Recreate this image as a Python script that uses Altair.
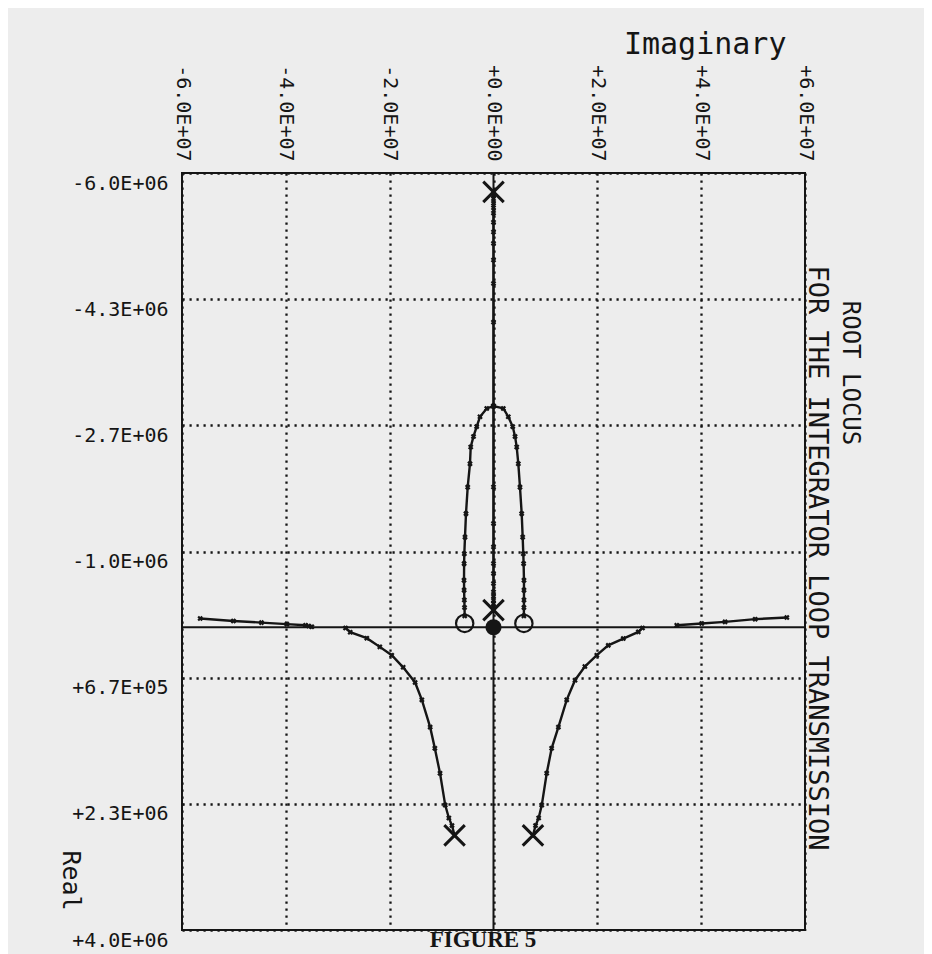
import altair as alt
import pandas as pd

# ---------------- axis ticks / labels ----------------
imag_ticks = [-6e7, -4e7, -2e7, 0.0, 2e7, 4e7, 6e7]
imag_labels = ["-6.0E+07", "-4.0E+07", "-2.0E+07", "+0.0E+00", "+2.0E+07", "+4.0E+07", "+6.0E+07"]
real_ticks = [-6.0e6, -4.333333e6, -2.666667e6, -1.0e6, 6.66667e5, 2.333333e6, 4.0e6]
real_labels = ["-6.0E+06", "-4.3E+06", "-2.7E+06", "-1.0E+06", "+6.7E+05", "+2.3E+06", "+4.0E+06"]

# ---------------- locus branches (imag, real) ----------------
upper_vert_real = [-5.75e6, -5.71e6, -5.66e6, -5.60e6, -5.54e6, -5.47e6, -5.35e6, -5.22e6,
                   -5.07e6, -4.85e6, -4.54e6, -4.03e6, -2.92e6]
upper_vert_imag = [0.0] * 13

lower_vert_real = [-2.25e5, -2.68e5, -3.10e5, -3.57e5, -4.10e5, -4.66e5, -5.77e5, -7.09e5,
                   -8.41e5, -1.061e6, -1.37e6, -1.853e6, -2.92e6]
lower_vert_imag = [0.0] * 13

left_arch_imag = [0.0, -1.3e6, -2.6e6, -3.24e6, -3.85e6, -4.39e6, -4.53e6, -4.97e6, -5.30e6,
                  -5.49e6, -5.62e6, -5.66e6, -5.68e6, -5.66e6, -5.62e6, -5.58e6, -5.55e6]
left_arch_real = [-2.92e6, -2.89e6, -2.78e6, -2.65e6, -2.52e6, -2.38e6, -2.16e6, -1.85e6, -1.50e6,
                  -1.19e6, -9.7e5, -8.4e5, -6.2e5, -4.9e5, -3.6e5, -2.6e5, -1.5e5]

right_arch_imag = [0.0, 1.89e6, 2.85e6, 3.70e6, 4.15e6, 4.47e6, 4.78e6, 5.10e6, 5.43e6,
                   5.62e6, 5.74e6, 5.80e6, 5.87e6, 5.87e6, 5.87e6, 5.86e6, 5.85e6]
right_arch_real = [-2.92e6, -2.89e6, -2.78e6, -2.65e6, -2.52e6, -2.38e6, -2.16e6, -1.85e6, -1.50e6,
                   -1.19e6, -9.7e5, -8.4e5, -6.2e5, -4.9e5, -3.6e5, -2.6e5, -1.5e5]

left_low_imag = [-7.5e6, -8.0e6, -8.6e6, -9.3e6, -1.03e7, -1.13e7, -1.22e7, -1.38e7, -1.51e7,
                 -1.74e7, -1.96e7, -2.19e7, -2.44e7, -2.76e7, -2.85e7]
left_low_real = [2.75e6, 2.62e6, 2.52e6, 2.35e6, 1.93e6, 1.60e6, 1.32e6, 9.6e5, 7.3e5,
                 5.3e5, 3.7e5, 2.6e5, 1.45e5, 6.6e4, 1.0e4]

right_low_imag = [7.6e6, 8.1e6, 8.7e6, 9.3e6, 1.025e7, 1.12e7, 1.25e7, 1.41e7, 1.57e7,
                  1.76e7, 1.99e7, 2.21e7, 2.50e7, 2.79e7, 2.87e7]
right_low_real = [2.75e6, 2.62e6, 2.52e6, 2.35e6, 1.93e6, 1.60e6, 1.32e6, 9.6e5, 7.0e5,
                  5.2e5, 3.7e5, 2.4e5, 1.5e5, 6.2e4, 1.0e4]

left_side_imag = [-3.50e7, -3.56e7, -3.62e7, -3.98e7, -4.47e7, -5.01e7, -5.65e7]
left_side_real = [-0.5e4, -1.5e4, -2.5e4, -4.0e4, -6.1e4, -8.2e4, -1.15e5]

right_side_imag = [3.53e7, 4.01e7, 4.46e7, 5.04e7, 5.65e7]
right_side_real = [-2.6e4, -4.9e4, -7.0e4, -1.06e5, -1.28e5]

# poles (X), zeros (O) and the origin point
pole_imag = [0.0, 0.0, -7.5e6, 7.6e6]
pole_real = [-5.75e6, -2.25e5, 2.75e6, 2.75e6]
zero_imag = [-5.55e6, 5.85e6]
zero_real = [-5.0e4, -5.0e4]
origin_imag = [0.0]
origin_real = [0.0]

x_title = "Imaginary"
y_title = "Real"
right_titles = ["ROOT LOCUS", "FOR THE INTEGRATOR LOOP TRANSMISSION"]
caption = "FIGURE 5"

# ---------------- build tables ----------------
branches = [
    ("upper_vert", upper_vert_imag, upper_vert_real),
    ("lower_vert", lower_vert_imag, lower_vert_real),
    ("left_arch", left_arch_imag, left_arch_real),
    ("right_arch", right_arch_imag, right_arch_real),
    ("left_low", left_low_imag, left_low_real),
    ("right_low", right_low_imag, right_low_real),
    ("left_side", left_side_imag, left_side_real),
    ("right_side", right_side_imag, right_side_real),
]
rows = []
for name, xs, ys in branches:
    for i, (xv, yv) in enumerate(zip(xs, ys)):
        rows.append({"branch": name, "order": i, "imag": xv, "real": yv})
locus = pd.DataFrame(rows)
poles = pd.DataFrame({"imag": pole_imag, "real": pole_real})
zeros = pd.DataFrame({"imag": zero_imag, "real": zero_real})
origin = pd.DataFrame({"imag": origin_imag, "real": origin_real})
vline = pd.DataFrame({"imag": [0.0]})
hline = pd.DataFrame({"real": [0.0]})


def label_expr(vals, labs):
    parts = [f"abs(datum.value - ({v})) < 1 ? '{l}'" for v, l in zip(vals, labs)]
    return " : ".join(parts) + " : ''"


MONO = "DejaVu Sans Mono"
INK = "#151515"

x_scale = alt.Scale(domain=[-6e7, 6e7], nice=False, zero=False)
y_scale = alt.Scale(domain=[-6e6, 4e6], reverse=True, nice=False, zero=False)

x_axis = alt.Axis(
    orient="top", values=imag_ticks, labelExpr=label_expr(imag_ticks, imag_labels),
    labelAngle=90, labelAlign="right", labelBaseline="middle", labelPadding=12,
    labelFont=MONO, labelFontSize=20, labelColor=INK, labelFlush=False, labelOverlap=False,
    ticks=False, domain=False, grid=True, gridDash=[2.2, 4.8], gridColor=INK, gridWidth=2.3,
    title=x_title, titleFont=MONO, titleFontSize=30, titleFontWeight="normal", titleColor=INK,
    titleAngle=0, titleAlign="right", titleBaseline="alphabetic", titleX=604, titleY=-120,
)
y_axis = alt.Axis(
    orient="left", values=real_ticks, labelExpr=label_expr(real_ticks, real_labels),
    labelAlign="right", labelBaseline="top", labelPadding=14,
    labelFont=MONO, labelFontSize=20, labelColor=INK, labelFlush=False, labelOverlap=False,
    ticks=False, domain=False, grid=True, gridDash=[2.2, 4.8], gridColor=INK, gridWidth=2.3,
    title=y_title, titleFont=MONO, titleFontSize=25, titleFontWeight="normal", titleColor=INK,
    titleAngle=90, titleAlign="center", titleBaseline="middle", titleX=-112, titleY=707,
)

X = alt.X("imag:Q", scale=x_scale, axis=x_axis)
Y = alt.Y("real:Q", scale=y_scale, axis=y_axis)

lines = alt.Chart(locus).mark_line(color=INK, strokeWidth=2.4).encode(
    x=X, y=Y, detail="branch:N", order="order:Q",
)
markers = alt.Chart(locus).mark_point(
    shape="cross", angle=45, filled=True, size=32, color=INK, opacity=1
).encode(x=X, y=Y)

vaxis = alt.Chart(vline).mark_rule(color=INK, strokeWidth=2).encode(x=X)
haxis = alt.Chart(hline).mark_rule(color=INK, strokeWidth=2).encode(y=Y)

pole_marks = alt.Chart(poles).mark_point(
    shape="M-1,-1L1,1M-1,1L1,-1", filled=False, strokeWidth=3, size=420, color=INK, opacity=1
).encode(x=X, y=Y)
zero_marks = alt.Chart(zeros).mark_point(
    shape="circle", filled=False, strokeWidth=2.2, size=300, color=INK, opacity=1
).encode(x=X, y=Y)
origin_mark = alt.Chart(origin).mark_point(
    shape="circle", filled=True, size=260, color=INK, opacity=1
).encode(x=X, y=Y)

t1 = alt.Chart(pd.DataFrame({"t": [right_titles[0]]})).mark_text(
    font=MONO, fontSize=24, angle=90, align="center", baseline="middle", color=INK
).encode(text="t:N", x=alt.value(668), y=alt.value(200))
t2 = alt.Chart(pd.DataFrame({"t": [right_titles[1]]})).mark_text(
    font=MONO, fontSize=27, angle=90, align="center", baseline="middle", color=INK
).encode(text="t:N", x=alt.value(635), y=alt.value(385))
t3 = alt.Chart(pd.DataFrame({"t": [caption]})).mark_text(
    font="Liberation Serif", fontSize=23, fontWeight="bold", align="center",
    baseline="alphabetic", color=INK
).encode(text="t:N", x=alt.value(301), y=alt.value(774))

chart = alt.layer(
    lines, vaxis, haxis, markers, pole_marks, zero_marks, origin_mark, t1, t2, t3
).properties(
    width=623,
    height=757,
    padding={"left": 174, "top": 165, "right": 119, "bottom": 24},
    autosize=alt.AutoSizeParams(type="none"),
    background="#ededed",
).configure_view(stroke=INK, strokeWidth=2)

chart.save("out.html", embed_options={"renderer": "svg", "actions": False})
